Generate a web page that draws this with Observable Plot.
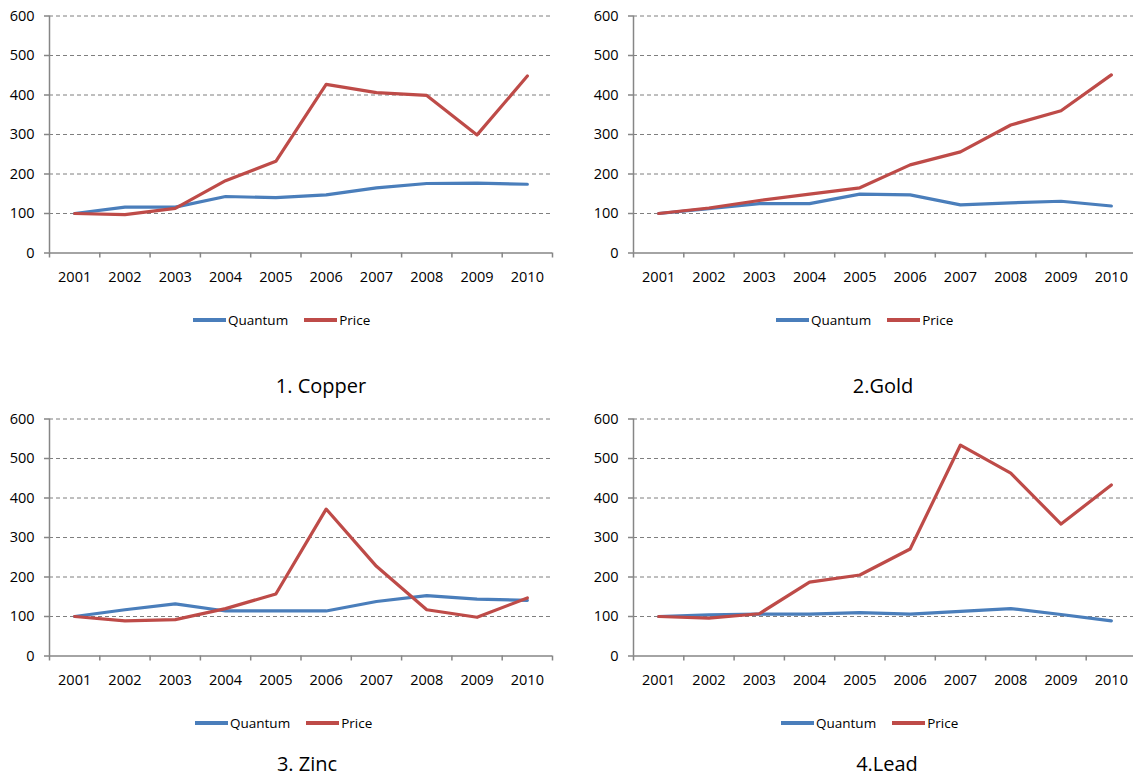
<!DOCTYPE html>
<html>
<head>
<meta charset="utf-8">
<script src="https://cdn.jsdelivr.net/npm/d3@7"></script>
<script src="https://cdn.jsdelivr.net/npm/@observablehq/plot@0.6"></script>
<style>
  html, body { margin: 0; padding: 0; background: #fff; }
  body { width: 1133px; height: 776px; overflow: hidden; position: relative; font-family: "Open Sans", sans-serif; color: #000; }
  .panel { position: absolute; }
  .legend { position: absolute; display: flex; align-items: center; font-size: 13.5px; white-space: nowrap; transform: translateY(-50%); }
  .legend .sw { display: inline-block; width: 33px; height: 3.5px; margin-right: 2px; }
  .legend .item { display: flex; align-items: center; margin-right: 16px; }
  .title { position: absolute; font-size: 20px; white-space: nowrap; transform: translate(-50%, -50%); }
</style>
</head>
<body>
<script>
// Index values (2001 = 100) for four metals
const years = [2001, 2002, 2003, 2004, 2005, 2006, 2007, 2008, 2009, 2010];
const yTicks = [0, 100, 200, 300, 400, 500, 600];
const seriesNames = ["Quantum", "Price"];
const seriesColors = ["#4A7EBB", "#BE4B48"];

const copperQuantum = [100, 116, 116, 143, 140, 147, 165, 176, 177, 174];
const copperPrice   = [100, 97, 113, 183, 232, 427, 406, 399, 299, 448];
const goldQuantum   = [100, 112, 125, 125, 149, 147, 122, 127, 131, 119];
const goldPrice     = [100, 114, 133, 149, 165, 223, 256, 324, 360, 451];
const zincQuantum   = [100, 117, 132, 114, 114, 114, 138, 153, 144, 141];
const zincPrice     = [100, 89, 92, 120, 157, 372, 227, 117, 98, 147];
const leadQuantum   = [100, 104, 106, 106, 110, 106, 113, 120, 105, 89];
const leadPrice     = [100, 96, 107, 187, 205, 271, 534, 463, 334, 433];

const panelTitles = ["1. Copper", "2.Gold", "3. Zinc", "4.Lead"];

// Layout for each small chart
const panels = [
  {title: panelTitles[0], q: copperQuantum, p: copperPrice, left: 0,   top: 0,   mLeft: 49, width: 566, legendX: 193, legendY: 320, titleX: 321, titleY: 385},
  {title: panelTitles[1], q: goldQuantum,   p: goldPrice,   left: 567, top: 0,   mLeft: 66, width: 570, legendX: 776, legendY: 320, titleX: 883, titleY: 385},
  {title: panelTitles[2], q: zincQuantum,   p: zincPrice,   left: 0,   top: 403, mLeft: 49, width: 566, legendX: 195, legendY: 723, titleX: 307, titleY: 763},
  {title: panelTitles[3], q: leadQuantum,   p: leadPrice,   left: 567, top: 403, mLeft: 66, width: 570, legendX: 781, legendY: 723, titleX: 887, titleY: 763}
];

const boundaries = d3.range(years[0] - 0.5, years[years.length - 1] + 1, 1);
const axisGray = "#868686";
const tickFont = 14.5;

for (const cfg of panels) {
  const rows = [];
  years.forEach((yr, i) => {
    rows.push({year: yr, value: cfg.q[i], series: seriesNames[0]});
    rows.push({year: yr, value: cfg.p[i], series: seriesNames[1]});
  });
  const plotWidth = 503;
  const chart = Plot.plot({
    width: cfg.width,
    height: 290,
    marginLeft: cfg.mLeft,
    marginRight: cfg.width - cfg.mLeft - plotWidth,
    marginTop: 15.5,
    marginBottom: 37.5,
    style: {fontFamily: "Open Sans, sans-serif", fontSize: "14px", color: "#000", background: "transparent", overflow: "visible"},
    x: {domain: [boundaries[0], boundaries[boundaries.length - 1]], axis: null},
    y: {domain: [0, 600], axis: null},
    color: {domain: seriesNames, range: seriesColors},
    marks: [
      Plot.gridY({ticks: yTicks.slice(1), stroke: "#7f7f7f", strokeOpacity: 1, strokeWidth: 1, strokeDasharray: "4,3"}),
      Plot.ruleX([boundaries[0]], {stroke: axisGray, strokeWidth: 1.5}),
      Plot.ruleY([0], {stroke: axisGray, strokeWidth: 1.5}),
      Plot.axisY({ticks: yTicks, tickSize: 5, tickPadding: 10, stroke: axisGray, strokeWidth: 1.5, fill: "#000", fontSize: tickFont, tickFormat: d => String(d), label: null}),
      Plot.axisX({ticks: boundaries, tickSize: 5, stroke: axisGray, strokeWidth: 1.5, tickFormat: () => "", label: null}),
      Plot.axisX({ticks: years, tickSize: 0, tickPadding: 19, fill: "#000", fontSize: tickFont, tickFormat: d => String(d), label: null}),
      Plot.lineY(rows, {x: "year", y: "value", z: "series", stroke: "series", strokeWidth: 3.2})
    ]
  });
  chart.classList.add("panel");
  chart.style.left = cfg.left + "px";
  chart.style.top = cfg.top + "px";
  document.body.appendChild(chart);

  // Legend below the chart
  const legend = document.createElement("div");
  legend.className = "legend";
  legend.style.left = cfg.legendX + "px";
  legend.style.top = cfg.legendY + "px";
  seriesNames.forEach((name, i) => {
    const item = document.createElement("span");
    item.className = "item";
    const sw = document.createElement("span");
    sw.className = "sw";
    sw.style.background = seriesColors[i];
    item.appendChild(sw);
    item.appendChild(document.createTextNode(name));
    legend.appendChild(item);
  });
  document.body.appendChild(legend);

  // Chart title under the legend
  const title = document.createElement("div");
  title.className = "title";
  title.style.left = cfg.titleX + "px";
  title.style.top = cfg.titleY + "px";
  title.textContent = cfg.title;
  document.body.appendChild(title);
}
</script>
</body>
</html>
